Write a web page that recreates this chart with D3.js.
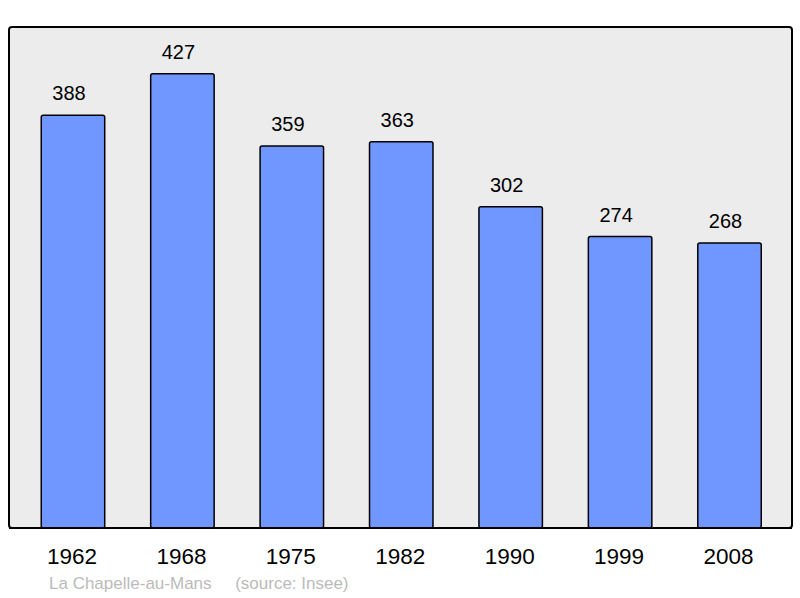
<!DOCTYPE html>
<html>
<head>
<meta charset="utf-8">
<script src="https://cdn.jsdelivr.net/npm/d3@7"></script>
<style>
  body { margin: 0; background: #fff; }
  text { font-family: "Liberation Sans", Arial, sans-serif; }
</style>
</head>
<body>
<div id="chart"></div>
<script>
const years = ['1962', '1968', '1975', '1982', '1990', '1999', '2008']
const population = [388, 427, 359, 363, 302, 274, 268]
const commune = 'La Chapelle-au-Mans'
const source = '(source: Insee)'

const width = 800
const height = 598

const svg = d3.select('#chart')
  .append('svg')
  .attr('width', width)
  .attr('height', height)

// panel
svg.append('rect')
  .attr('x', 9).attr('y', 27)
  .attr('width', 783).attr('height', 501)
  .attr('rx', 3)
  .attr('fill', '#ececec')
  .attr('stroke', '#000')
  .attr('stroke-width', 2)

const x = d3.scaleBand()
  .domain(years)
  .range([32.5, 770])
  .paddingInner(0.42)
  .paddingOuter(0.08)

const y = d3.scaleLinear()
  .domain([0, 470])
  .range([528, 28])

const data = years.map((yr, i) => ({ year: yr, value: population[i] }))

svg.selectAll('rect.bar').data(data).enter().append('rect')
  .attr('class', 'bar')
  .attr('x', d => x(d.year))
  .attr('y', d => y(d.value))
  .attr('width', x.bandwidth())
  .attr('height', d => y(0) - y(d.value))
  .attr('rx', 2)
  .attr('fill', '#7097ff')
  .attr('stroke', '#000')
  .attr('stroke-width', 1.5)

svg.selectAll('text.val').data(data).enter().append('text')
  .attr('class', 'val')
  .attr('x', d => x(d.year) + x.bandwidth() / 2 - 4)
  .attr('y', d => y(d.value) - 15)
  .attr('text-anchor', 'middle')
  .attr('font-size', 20)
  .attr('fill', '#000')
  .text(d => d.value)

// bottom line of panel redrawn over bars
svg.append('line')
  .attr('x1', 9).attr('x2', 792)
  .attr('y1', 528).attr('y2', 528)
  .attr('stroke', '#000').attr('stroke-width', 2)

svg.selectAll('text.year').data(years).enter().append('text')
  .attr('class', 'year')
  .attr('x', d => x(d) + x.bandwidth() / 2 - 1)
  .attr('y', 564)
  .attr('text-anchor', 'middle')
  .attr('font-size', 22.5)
  .attr('fill', '#000')
  .text(d => d)

svg.append('text')
  .attr('x', 49).attr('y', 589)
  .attr('font-size', 17)
  .attr('fill', '#bbb')
  .attr('xml:space', 'preserve')
  .text(commune + '     ' + source)
</script>
</body>
</html>
